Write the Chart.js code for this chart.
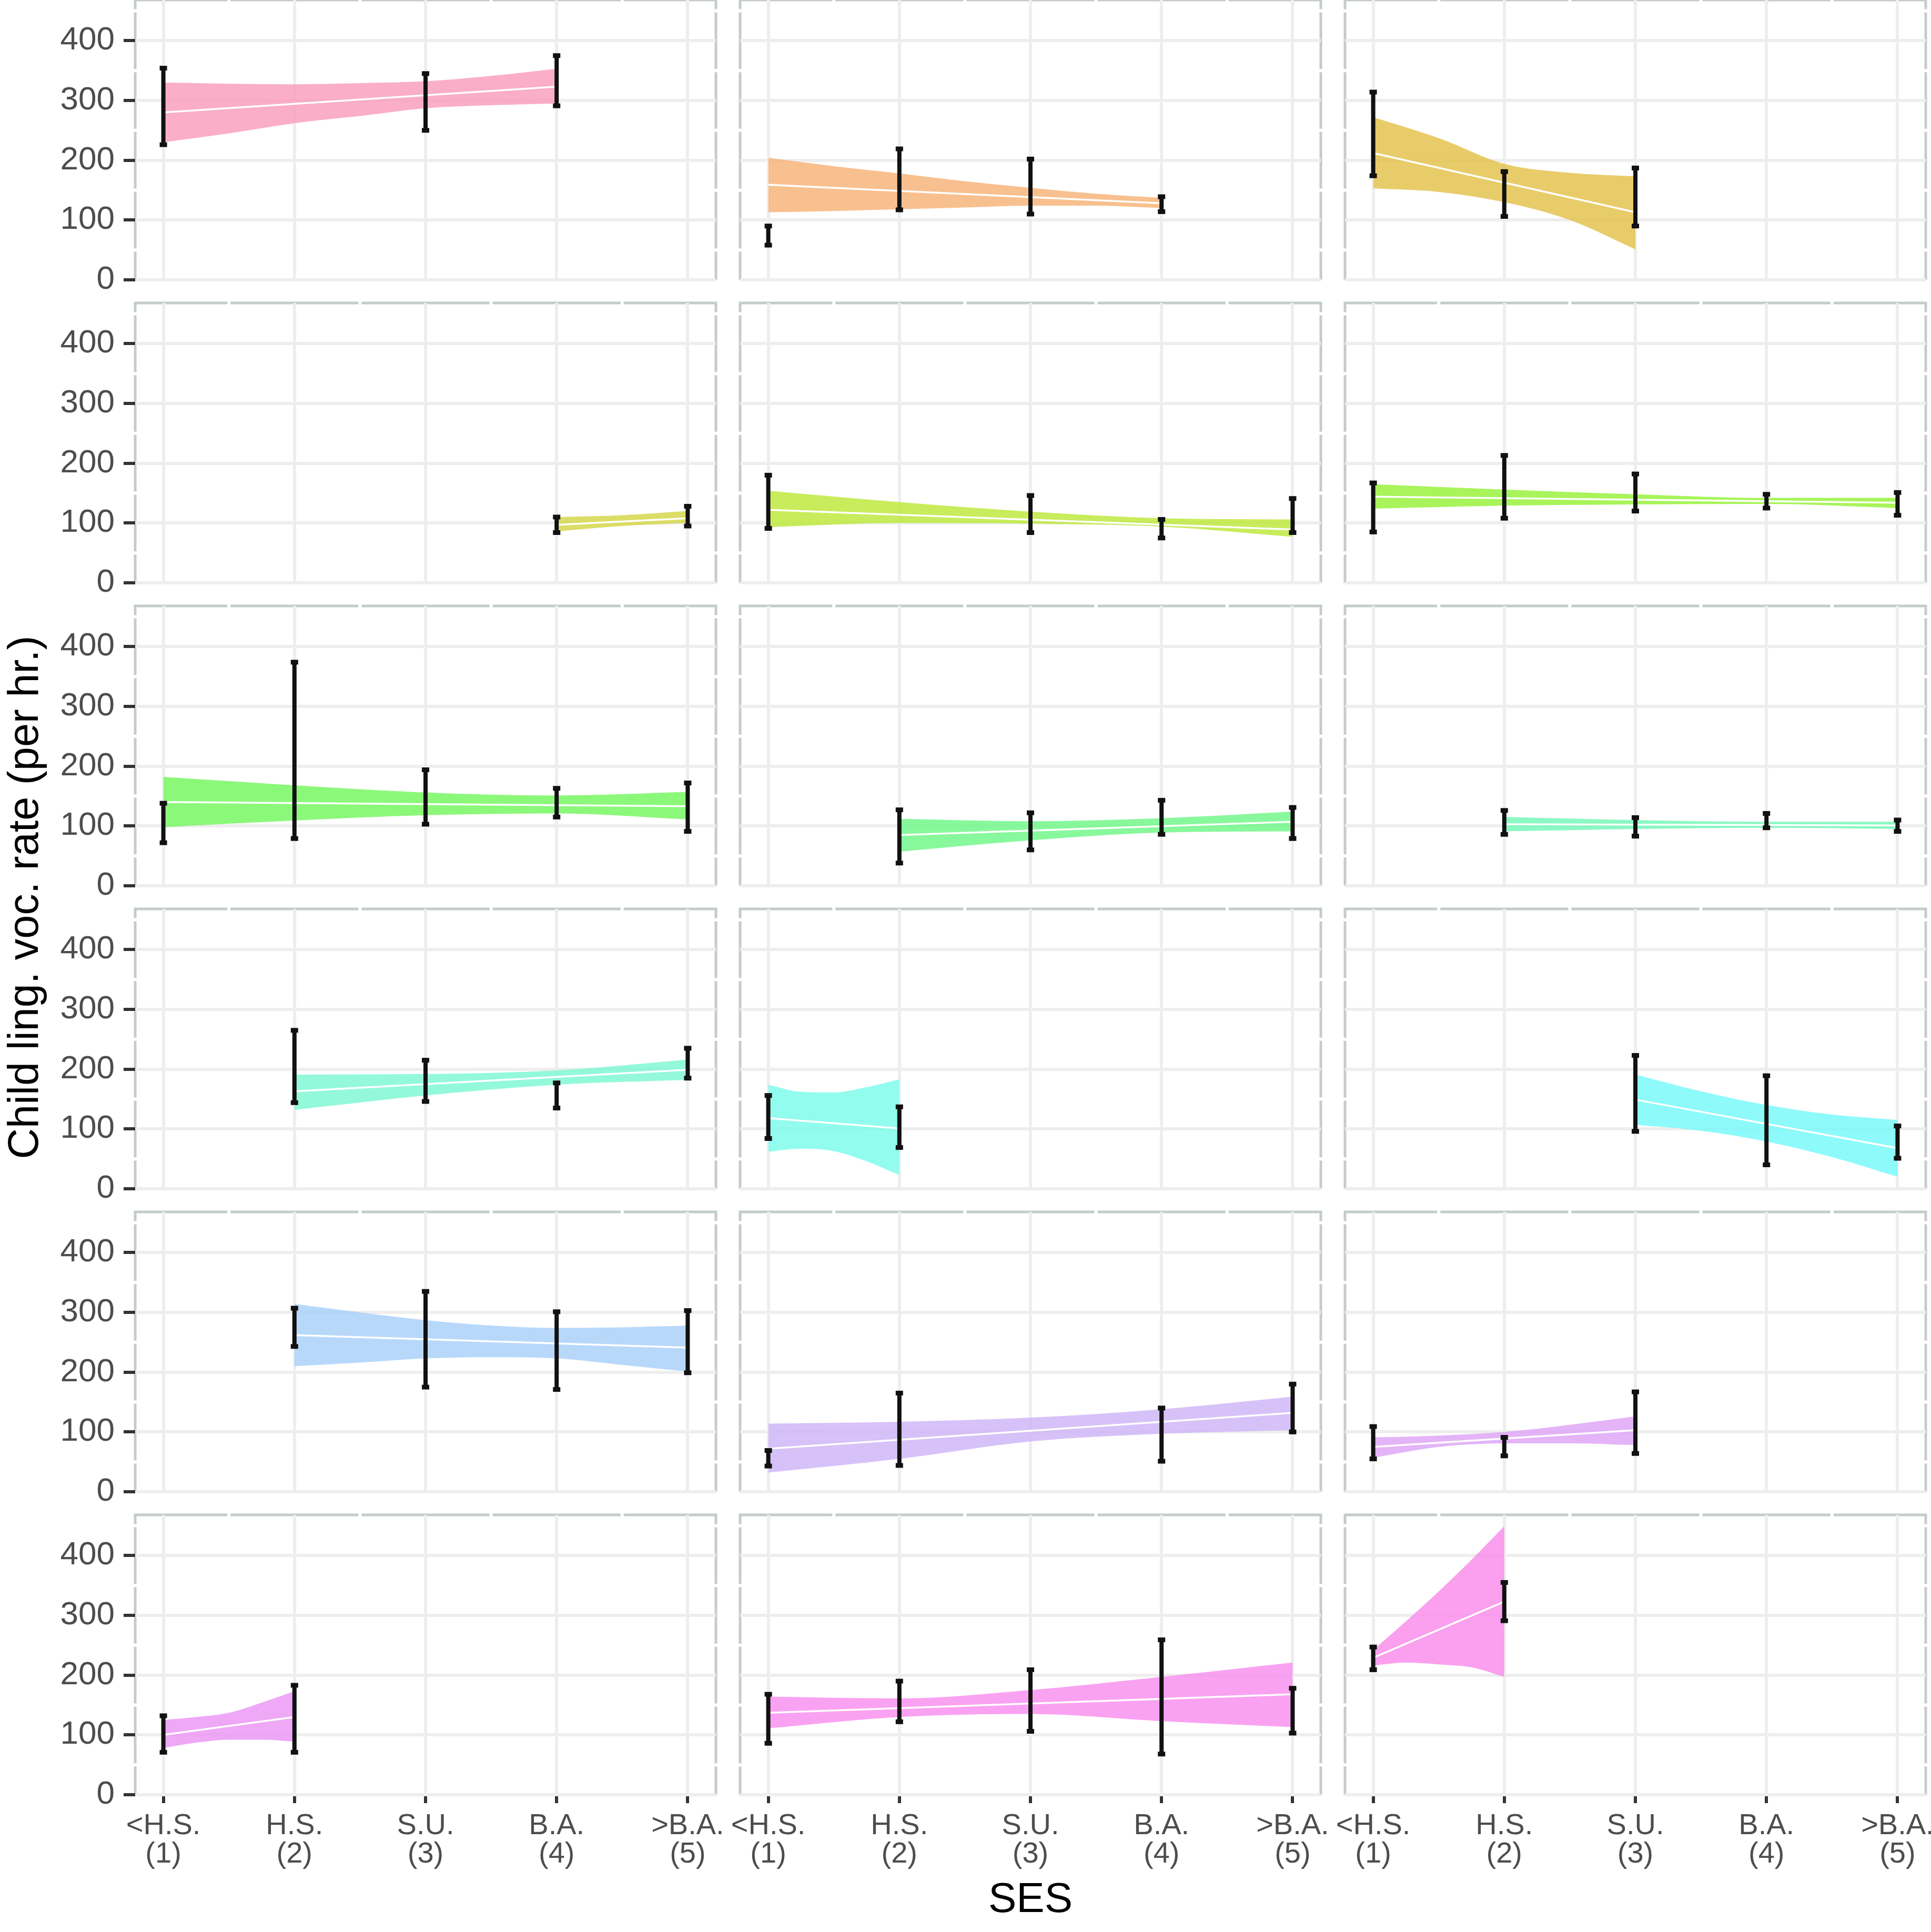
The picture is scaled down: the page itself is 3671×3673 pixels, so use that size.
<!DOCTYPE html>
<html>
<head>
<meta charset="utf-8">
<script src="https://cdn.jsdelivr.net/npm/chart.js@4.4.1/dist/chart.umd.min.js"></script>
<style>
  html, body { margin: 0; padding: 0; background: #fff; }
  #wrap { position: relative; width: 3671px; height: 3673px; overflow: hidden; background: #fff;
          font-family: 'Liberation Sans', Arial, Helvetica, sans-serif; }
  #wrap canvas { position: absolute; }
  .axis-title { position: absolute; color: #000; white-space: nowrap; line-height: 1; }
  #yTitle { left: 44px; top: 1706px; font-size: 81px; transform: translate(-50%, -50%) rotate(-90deg); }
  #xTitle { left: 1959px; top: 3608px; font-size: 80px; transform: translate(-50%, -50%); }
</style>
</head>
<body>
<div id="wrap">
  <div class="axis-title" id="yTitle">Child ling. voc. rate (per hr.)</div>
  <div class="axis-title" id="xTitle">SES</div>
</div>
<script>
// SES categories and tick labels
const sesValues = [1, 2, 3, 4, 5];
const sesLabels = [['<H.S.', '(1)'], ['H.S.', '(2)'], ['S.U.', '(3)'], ['B.A.', '(4)'], ['>B.A.', '(5)']];
const yTickValues = [0, 100, 200, 300, 400];
const minorY = [50, 150, 250, 350, 450];
const minorX = [1.5, 2.5, 3.5, 4.5];

// one entry per facet, row by row
const panelColors = [
    '#FAAEC8', '#F8C08E', '#E9CC6A',
    '#DCDD66', '#C8EC5C', '#A8F45A',
    '#8CF87A', '#88F89C', '#8CF8C4',
    '#94F9DA', '#92FCEE', '#8EFAFA',
    '#B8D8FA', '#D6C2F8', '#E4B4F8',
    '#EEA8F6', '#FAA2F2', '#FAA0EE'
];

// confidence ribbon of the fit
const ribbonX = [
    [1, 1.5, 2, 2.5, 3, 3.5, 4], [1, 1.5, 2, 2.5, 3, 3.5, 4], [1, 1.5, 2, 2.5, 3],
    [4, 4.5, 5], [1, 2, 3, 4, 5], [1, 2, 3, 4, 5],
    [1, 2, 3, 4, 5], [2, 3, 4, 5], [2, 3, 4, 5],
    [2, 3, 4, 5], [1, 1.25, 1.5, 1.75, 2], [3, 3.5, 4, 4.5, 5],
    [2, 2.5, 3, 3.5, 4, 4.5, 5], [1, 2, 3, 4, 5], [1, 1.5, 2, 2.5, 3],
    [1, 1.25, 1.5, 1.75, 2], [1, 2, 3, 4, 5], [1, 1.25, 1.5, 1.75, 2]
];
const ribbonUpper = [
    [330, 328, 327, 329, 332, 341, 353], [204, 190, 178, 165, 154, 144, 137], [272, 237, 194, 179, 173],
    [110, 113, 120], [154, 135, 119, 108, 106], [165, 156, 148, 142, 142],
    [182, 168, 156, 151, 157], [112, 108, 113, 124], [115, 110, 107, 107],
    [191, 192, 198, 216], [174, 162, 161, 170, 183], [191, 163, 140, 124, 115],
    [314, 300, 287, 278, 274, 275, 278], [114, 117, 124, 138, 159], [91, 94, 100, 112, 126],
    [125, 130, 137, 154, 173], [164, 161, 175, 197, 221], [242, 290, 340, 393, 449]
];
const ribbonLower = [
    [230, 245, 262, 274, 287, 292, 295], [113, 115, 118, 121, 124, 124, 120], [153, 147, 130, 100, 51],
    [86, 95, 100], [93, 100, 99, 94, 77], [124, 129, 131, 132, 125],
    [98, 109, 118, 121, 111], [57, 76, 89, 91], [91, 95, 97, 95],
    [132, 156, 174, 182], [62, 67, 63, 46, 23], [107, 97, 79, 53, 20],
    [210, 216, 223, 225, 223, 212, 201], [32, 55, 84, 97, 103], [57, 75, 81, 81, 78],
    [78, 87, 92, 92, 89], [111, 130, 135, 123, 113], [216, 221, 218, 213, 197]
];

// fitted line (start and end)
const fitX = [
    [1, 4], [1, 4], [1, 3],
    [4, 5], [1, 5], [1, 5],
    [1, 5], [2, 5], [2, 5],
    [2, 5], [1, 2], [3, 5],
    [2, 5], [1, 5], [1, 3],
    [1, 2], [1, 5], [1, 2]
];
const fitY = [
    [280, 323], [159, 128], [212, 113],
    [97, 108], [122, 89], [144, 134],
    [140, 133], [85, 107], [103, 101],
    [163, 199], [118, 101], [149, 68],
    [262, 241], [72, 132], [75, 103],
    [100, 130], [137, 168], [229, 323]
];

// error bars
const barX = [
    [1, 3, 4], [1, 2, 3, 4], [1, 2, 3],
    [4, 5], [1, 3, 4, 5], [1, 2, 3, 4, 5],
    [1, 2, 3, 4, 5], [2, 3, 4, 5], [2, 3, 4, 5],
    [2, 3, 4, 5], [1, 2], [3, 4, 5],
    [2, 3, 4, 5], [1, 2, 4, 5], [1, 2, 3],
    [1, 2], [1, 2, 3, 4, 5], [1, 2]
];
const barLow = [
    [226, 250, 291], [58, 117, 110, 114], [174, 106, 90],
    [84, 95], [91, 84, 75, 84], [85, 108, 120, 125, 113],
    [72, 79, 103, 115, 91], [38, 60, 86, 79], [86, 83, 97, 91],
    [144, 146, 135, 185], [84, 69], [96, 40, 51],
    [243, 175, 171, 199], [43, 44, 51, 100], [55, 60, 64],
    [71, 71], [86, 122, 106, 68, 103], [209, 291]
];
const barHigh = [
    [354, 345, 375], [90, 219, 202, 139], [314, 181, 187],
    [110, 128], [180, 146, 106, 141], [167, 213, 182, 148, 151],
    [138, 374, 194, 163, 172], [127, 122, 143, 131], [126, 114, 121, 110],
    [265, 215, 177, 235], [156, 137], [223, 189, 105],
    [307, 335, 301, 303], [69, 165, 140, 180], [109, 91, 167],
    [132, 183], [168, 190, 209, 259, 178], [247, 355]
];

const FONT = "'Liberation Sans', Arial, Helvetica, sans-serif";
const wrap = document.getElementById('wrap');

// semi-transparent fill that still looks like the sampled colour on white
function ribbonFill(hex) {
    const a = 0.8;
    const c = [1, 3, 5].map(k => parseInt(hex.substr(k, 2), 16));
    const base = c.map(v => Math.max(0, Math.round((v - (1 - a) * 255) / a)));
    return 'rgba(' + base.join(',') + ',' + a + ')';
}

// frame of each facet, cut by the white minor grid lines
const panelFrame = {
    id: 'panelFrame',
    beforeDraw(chart) {
        const { ctx, chartArea: a, scales: { x, y } } = chart;
        ctx.save();
        ctx.strokeStyle = '#C4CCC9';
        ctx.lineWidth = 5;
        ctx.beginPath();
        ctx.moveTo(a.left, a.bottom);
        ctx.lineTo(a.left, a.top);
        ctx.lineTo(a.right, a.top);
        ctx.lineTo(a.right, a.bottom);
        ctx.stroke();
        ctx.strokeStyle = '#ffffff';
        ctx.lineWidth = 6;
        minorY.forEach(v => {
            const py = y.getPixelForValue(v);
            ctx.beginPath();
            ctx.moveTo(a.left - 5, py);
            ctx.lineTo(a.right + 5, py);
            ctx.stroke();
        });
        minorX.forEach(v => {
            const px = x.getPixelForValue(v);
            ctx.beginPath();
            ctx.moveTo(px, a.top - 5);
            ctx.lineTo(px, a.bottom);
            ctx.stroke();
        });
        ctx.restore();
    }
};

// no label overflow padding: the panels sit on a fixed grid
function noPadding(scale) {
    scale.paddingLeft = 0;
    scale.paddingRight = 0;
    scale.paddingTop = 0;
    scale.paddingBottom = 0;
}

function createPanelChart(i) {
    const row = Math.floor(i / 3), col = i % 3;
    const isLeft = col === 0, isBottom = row === 5;
    const panelLeft = 257 + col * 1150, panelTop = row * 576;
    const panelW = 1104, panelH = 532;
    const padL = isLeft ? 257 : 80, padR = 80, padT = 10, padB = isBottom ? 250 : 45;

    const canvas = document.createElement('canvas');
    canvas.width = panelW + padL + padR;
    canvas.height = panelH + padT + padB;
    canvas.style.left = (panelLeft - padL) + 'px';
    canvas.style.top = (panelTop - padT) + 'px';
    wrap.appendChild(canvas);

    const toPoints = (xs, ys) => xs.map((x, k) => ({ x: x, y: ys[k] }));
    const barPoints = [];
    barX[i].forEach((x, k) => {
        barPoints.push({ x: x, y: barLow[i][k] }, { x: x, y: barHigh[i][k] }, { x: x, y: null });
    });

    return new Chart(canvas, {
        type: 'line',
        data: {
            datasets: [{
                data: toPoints(ribbonX[i], ribbonUpper[i]),
                borderColor: 'rgba(0,0,0,0)',
                borderWidth: 1,
                pointRadius: 0,
                cubicInterpolationMode: 'monotone',
                fill: '+1',
                backgroundColor: ribbonFill(panelColors[i]),
                order: 3
            }, {
                data: toPoints(ribbonX[i], ribbonLower[i]),
                borderColor: 'rgba(0,0,0,0)',
                borderWidth: 1,
                pointRadius: 0,
                cubicInterpolationMode: 'monotone',
                fill: false,
                order: 2
            }, {
                data: toPoints(fitX[i], fitY[i]),
                borderColor: '#ffffff',
                borderWidth: 3.5,
                pointRadius: 0,
                fill: false,
                order: 1
            }, {
                data: barPoints,
                borderColor: '#111111',
                borderWidth: 8,
                borderCapStyle: 'butt',
                pointStyle: 'line',
                pointRadius: 7,
                pointBorderWidth: 9,
                pointBorderColor: '#111111',
                pointBackgroundColor: '#111111',
                spanGaps: false,
                fill: false,
                order: 0
            }]
        },
        options: {
            responsive: false,
            animation: false,
            events: [],
            layout: {
                autoPadding: false,
                padding: { left: isLeft ? 0 : padL, right: padR, top: padT, bottom: isBottom ? 0 : padB }
            },
            plugins: {
                legend: { display: false },
                tooltip: { enabled: false },
                title: { display: false }
            },
            scales: {
                x: {
                    type: 'linear',
                    min: 0.785,
                    max: 5.215,
                    afterBuildTicks: scale => { scale.ticks = sesValues.map(v => ({ value: v })); },
                    afterFit: scale => { scale.height = isBottom ? padB : 0; noPadding(scale); },
                    border: { display: false },
                    grid: {
                        color: '#EDEEED',
                        lineWidth: 6,
                        drawTicks: isBottom,
                        tickLength: 16,
                        tickWidth: 6,
                        tickColor: '#333333'
                    },
                    ticks: {
                        display: isBottom,
                        autoSkip: false,
                        maxRotation: 0,
                        minRotation: 0,
                        padding: 17,
                        color: '#4D4D4D',
                        font: { family: FONT, size: 56, lineHeight: 54 / 56 },
                        callback: function (value) {
                            return sesLabels[sesValues.indexOf(value)];
                        }
                    }
                },
                y: {
                    type: 'linear',
                    min: 0,
                    max: 468,
                    afterBuildTicks: scale => { scale.ticks = yTickValues.map(v => ({ value: v })); },
                    afterFit: scale => { scale.width = isLeft ? padL : 0; noPadding(scale); },
                    border: { display: false },
                    grid: {
                        color: '#EDEEED',
                        lineWidth: 6,
                        drawTicks: isLeft,
                        tickLength: 22,
                        tickWidth: 6,
                        tickColor: '#333333'
                    },
                    ticks: {
                        display: isLeft,
                        padding: 17,
                        color: '#4D4D4D',
                        font: { family: FONT, size: 62 }
                    }
                }
            }
        },
        plugins: [panelFrame]
    });
}

for (let i = 0; i < 18; i++) {
    createPanelChart(i);
}
</script>
</body>
</html>
